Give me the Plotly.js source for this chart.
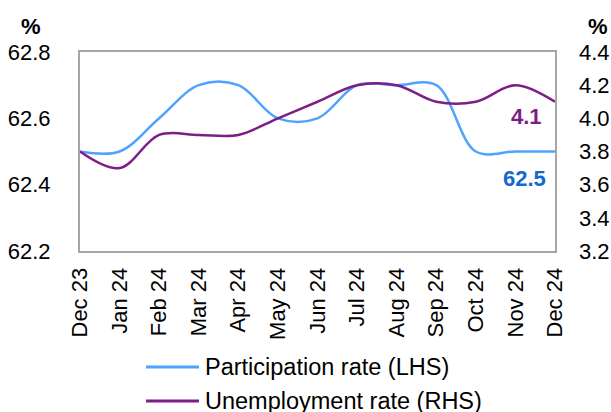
<!DOCTYPE html>
<html>
<head>
<meta charset="utf-8">
<script src="https://cdn.plot.ly/plotly-3.0.1.min.js"></script>
<style>html,body{margin:0;padding:0;background:#fff;}#chart{width:611px;height:412px;}</style>
</head>
<body>
<div id="chart"></div>
<script>
const months = ["Dec 23","Jan 24","Feb 24","Mar 24","Apr 24","May 24","Jun 24","Jul 24","Aug 24","Sep 24","Oct 24","Nov 24","Dec 24"];
const participation = [62.5, 62.5, 62.6, 62.7, 62.7, 62.6, 62.6, 62.7, 62.7, 62.7, 62.5, 62.5, 62.5];
const unemployment = [3.8, 3.7, 3.9, 3.9, 3.9, 4.0, 4.1, 4.2, 4.2, 4.1, 4.1, 4.2, 4.1];
const partName = "Participation rate (LHS)";
const unempName = "Unemployment rate (RHS)";
const leftTicks = [62.2, 62.4, 62.6, 62.8];
const rightTicks = [3.2, 3.4, 3.6, 3.8, 4.0, 4.2, 4.4];

const blue = "#4da3ff", purple = "#7d1e88", labelBlue = "#1369cf";
const font = "Liberation Sans, Arial, sans-serif";

const traces = [
  {x: months, y: participation, name: partName, type: "scatter", mode: "lines",
   line: {color: blue, width: 2.5, shape: "spline", smoothing: 1}, yaxis: "y", showlegend: false},
  {x: months, y: unemployment, name: unempName, type: "scatter", mode: "lines",
   line: {color: purple, width: 2.5, shape: "spline", smoothing: 1}, yaxis: "y2", showlegend: false}
];

const last = months.length - 1;
const layout = {
  width: 611, height: 412,
  margin: {l: 80, r: 56, t: 52, b: 161},
  paper_bgcolor: "#fff", plot_bgcolor: "#fff",
  font: {family: font, size: 22, color: "#000"},
  xaxis: {
    type: "category", range: [0, last], tickangle: -90,
    showgrid: false, zeroline: false, showline: true, linecolor: "#a6a6a6", linewidth: 2, mirror: true,
    ticks: "", tickfont: {size: 22}, ticklabelstandoff: 6
  },
  yaxis: {
    range: [62.2, 62.8], tickvals: leftTicks, ticktext: leftTicks.map(v => v.toFixed(1)),
    showgrid: false, zeroline: false, showline: true, linecolor: "#a6a6a6", linewidth: 2, mirror: true,
    ticks: "", tickfont: {size: 22}, ticklabelstandoff: 23
  },
  yaxis2: {
    range: [3.2, 4.4], overlaying: "y", side: "right", tickvals: rightTicks,
    ticktext: rightTicks.map(v => v.toFixed(1)), showgrid: false, zeroline: false,
    showline: false, ticks: "", tickfont: {size: 22}, ticklabelstandoff: 23
  },
  shapes: [
    {type: "line", xref: "paper", yref: "paper", x0: 0.139, x1: 0.2505, y0: -0.583, y1: -0.583,
     line: {color: blue, width: 3}},
    {type: "line", xref: "paper", yref: "paper", x0: 0.139, x1: 0.2505, y0: -0.754, y1: -0.754,
     line: {color: purple, width: 3}}
  ],
  annotations: [
    {xref: "paper", yref: "paper", x: 0.259, y: -0.583, text: partName, showarrow: false,
     xanchor: "left", yanchor: "middle", font: {size: 23.5, color: "#000"}},
    {xref: "paper", yref: "paper", x: 0.259, y: -0.754, text: unempName, showarrow: false,
     xanchor: "left", yanchor: "middle", font: {size: 23.5, color: "#000"}},
    {xref: "paper", yref: "paper", x: -0.103, y: 1.13, text: "<b>%</b>", showarrow: false,
     xanchor: "center", yanchor: "middle", font: {size: 22, color: "#000"}},
    {xref: "paper", yref: "paper", x: 1.09, y: 1.13, text: "<b>%</b>", showarrow: false,
     xanchor: "center", yanchor: "middle", font: {size: 22, color: "#000"}},
    {x: months[last], y: unemployment[last], yref: "y2", text: "<b>" + unemployment[last].toFixed(1) + "</b>",
     showarrow: false, xanchor: "center", yanchor: "middle", xshift: -29, yshift: -15,
     font: {size: 22, color: purple}},
    {x: months[last], y: participation[last], yref: "y", text: "<b>" + participation[last].toFixed(1) + "</b>",
     showarrow: false, xanchor: "center", yanchor: "middle", xshift: -31, yshift: -27,
     font: {size: 22, color: labelBlue}}
  ]
};

Plotly.newPlot("chart", traces, layout, {displayModeBar: false, staticPlot: true});
</script>
</body>
</html>
